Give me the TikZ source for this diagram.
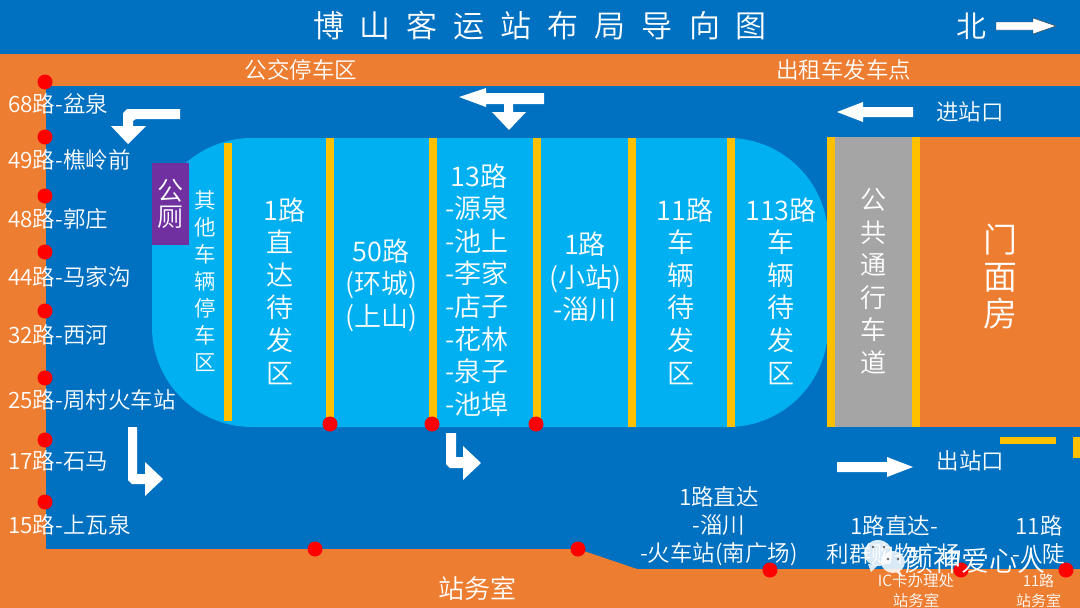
\documentclass[tikz,border=0pt]{standalone}
\usepackage{fontspec}
\setmainfont{Noto Sans CJK SC}[UprightFont=* DemiLight]
\definecolor{roadblue}{HTML}{0070C0}
\definecolor{lotorange}{HTML}{ED7D31}
\definecolor{bayblue}{HTML}{00B0F0}
\definecolor{baryellow}{HTML}{FFC000}
\definecolor{lanegray}{HTML}{A5A5A5}
\definecolor{wcpurple}{HTML}{7030A0}
\tikzset{every text node part/.style={align=center}}
\tikzset{lbl/.style={text=white, inner sep=0pt, font=\fontsize{22.5}{28}\selectfont}}
\tikzset{baytext/.style={lbl, font=\fontsize{27}{32.6}\selectfont}}
\tikzset{small/.style={lbl, font=\fontsize{15.5}{20}\selectfont}}
\tikzset{whitearrow/.style={fill=white, draw=none}}
\tikzset{busstop/.style={fill=red, draw=none}}
\newcommand{\gp}{\hspace{16pt}}

\begin{document}
\begin{tikzpicture}[x=1pt, y=-1pt]
\useasboundingbox (0,0) rectangle (1080,608);
\fill[roadblue] (0,0) rectangle (1080,608);

% Orange Areas
\fill[lotorange] (0,54) rectangle (1080,86);
\fill[lotorange] (0,54) rectangle (46,608);
\fill[lotorange] (0,549) -- (578,549) -- (637,569) -- (1080,569) -- (1080,608) -- (0,608) -- cycle;
\fill[lotorange] (920,137) rectangle (1080,427);

% Station Island
\fill[bayblue, rounded corners=100pt] (152,138) rectangle (828,427);
\fill[wcpurple] (152,163) rectangle (189,245);
\fill[baryellow] (224,143) rectangle (232,421);
\foreach \xpos in {326,429,533,628,727}
{
	\fill[baryellow] (\xpos,138) rectangle (\xpos+8,427);
}

% Through Lane
\fill[lanegray] (835,137) rectangle (912,427);
\fill[baryellow] (827,137) rectangle (835,427);
\fill[baryellow] (912,137) rectangle (920,427);
\fill[baryellow] (1000,437) rectangle (1056,444);
\fill[baryellow] (1073,437) rectangle (1080,458);

% Stops
\foreach \xpos/\ypos in {45/82,45/137,45/196,45/252,45/311,45/378,45/440,45/502,
	330/424,432/424,536/424,315/549,578/549,770/570,961/570,1066/570}
{
	\fill[busstop] (\xpos,\ypos) circle (7.5);
}

% Arrows
\fill[whitearrow] (180,109) -- (180,119) -- (136,119) -- (133,121) -- (133,126) -- (146,126)
	-- (128,144) -- (111,126) -- (123,126) -- (123,113) -- (127,109) -- cycle;
\fill[whitearrow] (544,93) -- (544,104) -- (513,104) -- (513,112) -- (526,112) -- (509,130) -- (492,112)
	-- (504,112) -- (504,104) -- (486,104) -- (486,107) -- (459,97) -- (486,88) -- (486,93) -- cycle;
\fill[whitearrow] (128,427) -- (137,427) -- (137,474) -- (145,474) -- (145,462) -- (163,479) -- (145,496)
	-- (145,484) -- (132,484) -- (128,480) -- cycle;
\fill[whitearrow] (446,433) -- (456,433) -- (456,457) -- (463,457) -- (463,446) -- (481,463) -- (463,480)
	-- (463,468) -- (450,468) -- (446,464) -- cycle;
\fill[whitearrow] (913,107) -- (863,107) -- (863,102) -- (837,112) -- (863,122) -- (863,117) -- (913,117) -- cycle;
\fill[whitearrow] (837,462) -- (887,462) -- (887,457) -- (913,467) -- (887,477) -- (887,472) -- (837,472) -- cycle;
\draw[whitearrow, draw=black!80, thin] (996,22) -- (1033,22) -- (1033,18) -- (1056,26) -- (1033,34) -- (1033,30) -- (996,30) -- cycle;

% Title
\node[lbl, font=\fontsize{31}{36}\selectfont] (title) at (540,26) {博\gp 山\gp 客\gp 运\gp 站\gp 布\gp 局\gp 导\gp 向\gp 图};
\node[lbl, font=\fontsize{30}{36}\selectfont] (north) at (971,26) {北};

% Areas
\node[lbl] (buslot) at (301,70) {公交停车区};
\node[lbl] (taxilot) at (843.5,70) {出租车发车点};
\node[lbl, font=\fontsize{26}{31}\selectfont] (office) at (477.5,588) {站务室};
\node[lbl] (entry) at (970,112) {进站口};
\node[lbl] (exit) at (970.5,461) {出站口};

% Route Labels
\foreach \ypos/\route in {104/68路-盆泉,160/49路-樵岭前,219/48路-郭庄,277/44路-马家沟,
	335/32路-西河,400/25路-周村火车站,461/17路-石马,525/15路-上瓦泉}
{
	\node[lbl, anchor=west] (route\ypos) at (8,\ypos) {\route};
}

% Bays
\node[lbl, font=\fontsize{26}{26}\selectfont] (toilet) at (170.5,204) {公\\厕};
\node[lbl, font=\fontsize{21.5}{27}\selectfont] (otherbay) at (205,281) {其\\他\\车\\辆\\停\\车\\区};
\node[baytext] (bay1) at (280,291) {\kern9pt 1路\\直\\达\\待\\发\\区};
\node[baytext] (bay50) at (381,285) {50路\\(环城)\\(上山)};
\node[baytext, anchor=east, align=right] (bay13) at (509,290) {13路\kern-4pt\\-源泉\\-池上\\-李家\\-店子\\-花林\\-泉子\\-池埠};
\node[baytext] (bay1b) at (585,277) {1路\\(小站)\\-淄川};
\node[baytext] (bay11) at (681,291) {\kern8pt 11路\\车\\辆\\待\\发\\区};
\node[baytext] (bay113) at (781,291) {113路\\车\\辆\\待\\发\\区};
\node[baytext, font=\fontsize{26}{32.5}\selectfont] (lane) at (873,281) {公\\共\\通\\行\\车\\道};
\node[lbl, font=\fontsize{34}{37}\selectfont] (shops) at (1000,277) {门\\面\\房};

% Bottom Labels
\node[lbl] (exit1) at (719,526) {1路直达\\-淄川\\-火车站(南广场)};
\node[lbl] (exit2) at (894,540) {1路直达-\\利群购物广场};
\node[lbl] (exit3) at (1039,540) {11路\\-八陡};
\node[small] (ic) at (916,591) {IC卡办理处\\站务室};
\node[small, font=\fontsize{15}{20}\selectfont] (office11) at (1038.5,591) {11路\\站务室};

% Watermark
\begin{scope}[fill=white, fill opacity=.85]
	\fill (878,553) ellipse (14 and 13);
	\fill (868,564) -- (871,572) -- (878,565) -- cycle;
	\fill (893,562) ellipse (12 and 11);
	\fill (899,570) -- (903,577) -- (896,572) -- cycle;
\end{scope}
\foreach \xpos/\ypos in {873/547,884/547,888/559,898/559}
{
	\fill[black!60] (\xpos,\ypos) circle (1.3);
}
\node[lbl, font=\fontsize{28}{32}\selectfont] (mark) at (975,561) {颜神爱心人};

\end{tikzpicture}
\end{document}
